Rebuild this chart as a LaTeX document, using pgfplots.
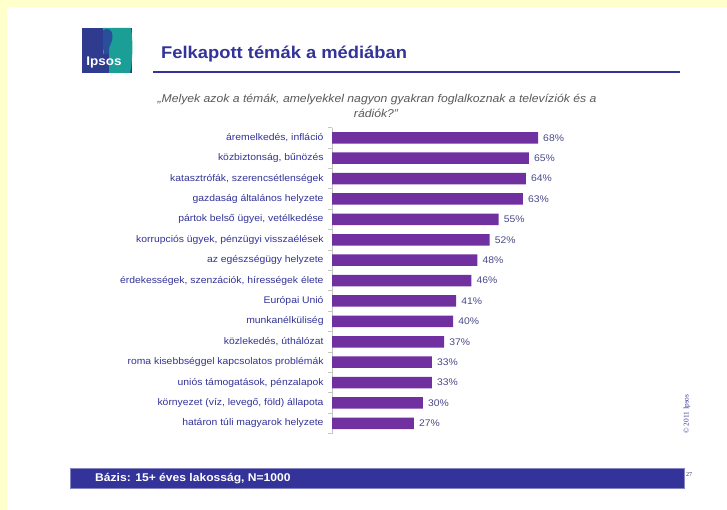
\documentclass[border=0pt]{standalone}
\usepackage{fontspec}
\setmainfont{Liberation Sans}[FakeStretch=1.08]
\newfontfamily\seriffont{Liberation Serif}
\usepackage{graphicx}
\usepackage{pgfplots}
\pgfplotsset{compat=1.18}
\definecolor{ipblue}{HTML}{333399}
\definecolor{ipteal}{HTML}{1B9E96}
\definecolor{logoblue}{HTML}{2E3B8E}
\definecolor{headblue}{HTML}{2A4F9A}
\definecolor{barpurple}{HTML}{7030A0}
\definecolor{valtext}{HTML}{4A4A8A}
\definecolor{bgyellow}{HTML}{FFFFCC}
\definecolor{subgray}{HTML}{595959}
\begin{document}
\begin{tikzpicture}[x=1pt,y=1pt]
% background
\fill[bgyellow] (0,0) rectangle (727,510);
\fill[white] (7,0) rectangle (727,503);
% logo
\fill[logoblue] (82,482) rectangle (132,437);
\fill[ipteal] (103,482) -- (131,482) .. controls (133,470) and (133,450) .. (130,437) -- (103,437) -- cycle;
% head silhouette
\fill[headblue] (104,456) -- (104,460) .. controls (101,462) and (100,465) .. (101,468)
  .. controls (99.5,470) and (99.5,471) .. (100.5,472)
  .. controls (100,477) and (103,481) .. (107,481)
  .. controls (111,481) and (113,477) .. (112.5,472)
  .. controls (112,468) and (110,465) .. (109,462) -- (109,456) -- cycle;
\fill[logoblue] (82,482) rectangle (103,437);
\fill[logoblue] (103,437) rectangle (109,456);
\node[anchor=base, text=white, inner sep=0pt] at (104,444) {\fontsize{12.5}{14}\selectfont\bfseries Ipsos};
% title
\node[anchor=base west, text=ipblue, inner sep=0pt] at (161,451) {\fontsize{17}{20}\selectfont\bfseries Felkapott témák a médiában};
\draw[ipblue, line width=1.2pt] (153,438) -- (680,438);
% subtitle
\node[anchor=base, text=subgray, inner sep=0pt] at (377,407) {\fontsize{11.3}{13}\selectfont\itshape „Melyek azok a témák, amelyekkel nagyon gyakran foglalkoznak a televíziók és a};
\node[anchor=base, text=subgray, inner sep=0pt] at (376,392) {\fontsize{11.3}{13}\selectfont\itshape rádiók?”};
% chart
\begin{axis}[
  at={(332pt,382.4pt)}, anchor=north west,
  scale only axis, width=242.4pt, height=306pt,
  xmin=0, xmax=80, ymin=-0.5, ymax=14.5,
  y dir=reverse,
  axis x line=none,
  axis y line=left,
  y axis line style={-, draw=gray!45, line width=0.6pt},
  ytick={0,...,14},
  yticklabels={{áremelkedés, infláció},{közbiztonság, bűnözés},{katasztrófák, szerencsétlenségek},{gazdaság általános helyzete},{pártok belső ügyei, vetélkedése},{korrupciós ügyek, pénzügyi visszaélések},{az egészségügy helyzete},{érdekességek, szenzációk, hírességek élete},{Európai Unió},{munkanélküliség},{közlekedés, úthálózat},{roma kisebbséggel kapcsolatos problémák},{uniós támogatások, pénzalapok},{környezet (víz, levegő, föld) állapota},{határon túli magyarok helyzete}},
  ytick style={draw=none},
  yticklabel style={anchor=east, inner sep=0pt, xshift=-4pt, text=ipblue, font=\fontsize{9.6}{11}\selectfont},
  extra y ticks={-0.5,0.5,...,14.5},
  extra y tick labels={},
  extra y tick style={tick align=outside, major tick length=4pt, ytick style={draw=gray!45, line width=0.6pt}},
  xbar, bar width=11.5pt,
  point meta=x,
  nodes near coords={\pgfmathprintnumber{\pgfplotspointmeta}\%},
  nodes near coords style={anchor=west, inner sep=0pt, xshift=5pt, text=valtext, font=\fontsize{9.6}{11}\selectfont},
  /pgf/number format/assume math mode=true,
  clip=false,
]
\addplot[fill=barpurple, draw=none] coordinates {
(68,0) (65,1) (64,2) (63,3) (55,4) (52,5) (48,6) (46,7) (41,8) (40,9) (37,10) (33,11) (33,12) (30,13) (27,14)
};
\end{axis}
% copyright
\node[rotate=90, text=ipblue, inner sep=0pt] at (687,96) {\seriffont\fontsize{7.3}{8}\selectfont © 2011 Ipsos};
% bottom bar
\fill[ipblue] (70,42) rectangle (684,22);
\draw[ipblue!60, line width=0.5pt] (70,42) rectangle (684,22);
\node[anchor=base west, text=white, inner sep=0pt] at (95,28) {\fontsize{11.2}{13}\selectfont\bfseries Bázis: 15+ éves lakosság, N=1000};
\node[anchor=base west, text=ipblue!70!black, inner sep=0pt] at (686,33) {\seriffont\fontsize{6}{7}\selectfont 27};
\pgfresetboundingbox
\path (0,0) rectangle (727,510);
\end{tikzpicture}
\end{document}
